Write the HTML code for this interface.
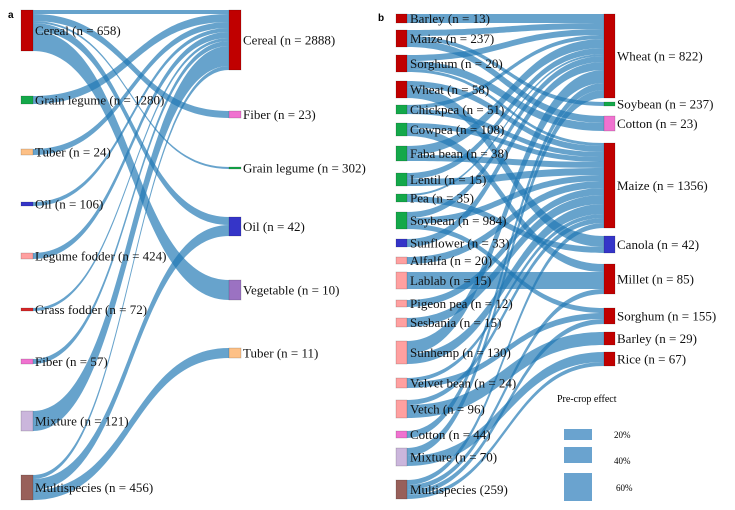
<!DOCTYPE html>
<html><head><meta charset="utf-8">
<style>
html,body{margin:0;padding:0;background:#fff;}
svg{display:block;font-family:"Liberation Serif",serif;}
.lbl{font-size:13px;fill:#111;}
</style></head>
<body>
<svg id="chart" width="735" height="510" viewBox="0 0 735 510">
<text x="8" y="18" font-family="Liberation Sans, sans-serif" font-weight="bold" font-size="10">a</text>
<text x="378" y="21" font-family="Liberation Sans, sans-serif" font-weight="bold" font-size="10">b</text>
<g id="pa"></g>
<g id="pb"></g>
<g id="legend">
<text x="557" y="402" font-size="10">Pre-crop effect</text>
<rect x="564" y="429" width="28" height="11" fill="#6aa3cf"/>
<text x="614" y="438" font-size="9">20%</text>
<rect x="564" y="447" width="28" height="16" fill="#6aa3cf"/>
<text x="614" y="464" font-size="9">40%</text>
<rect x="564" y="473" width="28" height="28" fill="#6aa3cf"/>
<text x="616" y="491" font-size="9">60%</text>
</g>
</svg>
<script>
// ---- Panel a data ----
const aSources = ["Cereal (n = 658)","Grain legume (n = 1280)","Tuber (n = 24)","Oil (n = 106)","Legume fodder (n = 424)","Grass fodder (n = 72)","Fiber (n = 57)","Mixture (n = 121)","Multispecies (n = 456)"];
const aTargets = ["Cereal (n = 2888)","Fiber (n = 23)","Grain legume (n = 302)","Oil (n = 42)","Vegetable (n = 10)","Tuber (n = 11)"];
const aLinkSource = [0,0,0,0,0,1,2,3,4,5,6,7,8,8,8];
const aLinkTarget = [0,1,2,3,4,0,0,0,0,0,0,0,0,3,5];
const aLinkValue  = [4,7,2,8,20,8,6,4,6,3,5,20,4,11,10];
// ---- Panel b data ----
const bSources = ["Barley (n = 13)","Maize (n = 237)","Sorghum (n = 20)","Wheat (n = 58)","Chickpea (n = 51)","Cowpea (n = 108)","Faba bean (n = 38)","Lentil (n = 15)","Pea (n = 35)","Soybean (n = 984)","Sunflower (n = 33)","Alfalfa (n = 20)","Lablab (n = 15)","Pigeon pea (n = 12)","Sesbania (n = 15)","Sunhemp (n = 130)","Velvet bean (n = 24)","Vetch (n = 96)","Cotton (n = 44)","Mixture (n = 70)","Multispecies (259)"];
const bTargets = ["Wheat (n = 822)","Soybean (n = 237)","Cotton (n = 23)","Maize (n = 1356)","Canola (n = 42)","Millet (n = 85)","Sorghum (n = 155)","Barley (n = 29)","Rice (n = 67)"];
const bLinkSource = [0, 1,1,1, 2,2,2, 3,3, 4,4, 5,5, 6,6, 7,7, 8,8, 9,9,9, 10, 11, 12, 13, 14, 15,15, 16,16, 17,17, 18, 19,19, 20,20,20,20];
const bLinkTarget = [0, 0,1,2, 0,2,3, 3,4, 0,3, 3,5, 0,3, 0,3, 0,4, 0,3,6, 0,  3,  5,  3,  3,  0,3,  3,6,  3,7,  0,  0,8,  3,6,5,8];
const bLinkValue  = [9, 6,4,7, 6,8,3, 6,11, 4,5, 5,8, 9,6, 6,7, 2,6, 6,6,5, 8,  7,  17, 7,  9,  13,10, 4,6, 5,13, 7,  8,10, 5,5,5,4];

// ---- layout (not data) ----
const aLayout = {xL:21,xR:229,w:12,labL:35,labR:243,
  yL:[10,96,149,202,253,308,359,411,475], yR:[10,111,167,217,280,348]};
const bLayout = {xL:396,xR:604,w:11,labL:410,labR:617,
  yL:[14,30,55,81,105,123,146,173,194,212,239,257,272,300,318,341,378,400,431,448,480],
  yR:[14,102,116,143,236,264,308,332,352]};
const aColL = ["#c00000","#14a84a","#fdc086","#3535c8","#ffa0a0","#d62728","#f072d0","#cbb6dc","#98605a"];
const aColR = ["#c00000","#f072d0","#14a84a","#3535c8","#9b72c2","#fdc086"];
const bColL = ["#c00000","#c00000","#c00000","#c00000","#14a84a","#14a84a","#14a84a","#14a84a","#14a84a","#14a84a","#3535c8","#ffa0a0","#ffa0a0","#ffa0a0","#ffa0a0","#ffa0a0","#ffa0a0","#ffa0a0","#f072d0","#cbb6dc","#98605a"];
const bColR = ["#c00000","#14a84a","#f072d0","#c00000","#3535c8","#c00000","#c00000","#c00000","#c00000"];

const NS = "http://www.w3.org/2000/svg";
function el(tag, attrs, parent){const e=document.createElementNS(NS,tag);for(const k in attrs)e.setAttribute(k,attrs[k]);parent.appendChild(e);return e;}
function slug(s){return s.replace(/\(.*$/,'').trim().toLowerCase().replace(/[^a-z0-9]+/g,'-');}

function drawSankey(g, srcNames, tgtNames, ls, lt, lv, L, colL, colR, pfx){
  const nL=srcNames.length,nR=tgtNames.length;
  const outS=new Array(nL).fill(0), inT=new Array(nR).fill(0);
  for(let i=0;i<lv.length;i++){outS[ls[i]]+=lv[i];inT[lt[i]]+=lv[i];}
  const idx=lv.map((_,i)=>i);
  const sOff=new Array(lv.length), tOff=new Array(lv.length);
  const accS=new Array(nL).fill(0), accT=new Array(nR).fill(0);
  idx.slice().sort((a,b)=>L.yR[lt[a]]-L.yR[lt[b]]).forEach(i=>{sOff[i]=accS[ls[i]];accS[ls[i]]+=lv[i];});
  idx.slice().sort((a,b)=>L.yL[ls[a]]-L.yL[ls[b]]).forEach(i=>{tOff[i]=accT[lt[i]];accT[lt[i]]+=lv[i];});
  const links=el('g',{},g);
  
  
  const x0=L.xL+L.w, x1=L.xR, xm=(x0+x1)/2;
  for(const i of idx){
    const ya=L.yL[ls[i]]+sOff[i], yb=ya+lv[i];
    const yc=L.yR[lt[i]]+tOff[i], yd=yc+lv[i];
    const d=`M${x0},${ya}C${xm},${ya} ${xm},${yc} ${x1},${yc}L${x1},${yd}C${xm},${yd} ${xm},${yb} ${x0},${yb}Z`;
    const p=el('path',{d:d,fill:'#1f77b4','fill-opacity':0.68},links);
    
    
  }
  function node(x,y,h,c,name,lx,side){
    const r=el('rect',{x:x,y:y,width:L.w,height:Math.max(h,2),fill:c,stroke:'rgba(0,0,0,0.25)','stroke-width':0.6},g);
    
    
    const t=el('text',{x:lx,y:y+Math.max(h,2)/2+4.5,class:'lbl'},g);
    t.textContent=name;
    
    
  }
  for(let i=0;i<nL;i++) node(L.xL,L.yL[i],outS[i],colL[i],srcNames[i],L.labL,'source');
  for(let j=0;j<nR;j++) node(L.xR,L.yR[j],inT[j],colR[j],tgtNames[j],L.labR,'target');
}
drawSankey(document.getElementById('pa'),aSources,aTargets,aLinkSource,aLinkTarget,aLinkValue,aLayout,aColL,aColR,'a');
drawSankey(document.getElementById('pb'),bSources,bTargets,bLinkSource,bLinkTarget,bLinkValue,bLayout,bColL,bColR,'b');
</script>
</body></html>
